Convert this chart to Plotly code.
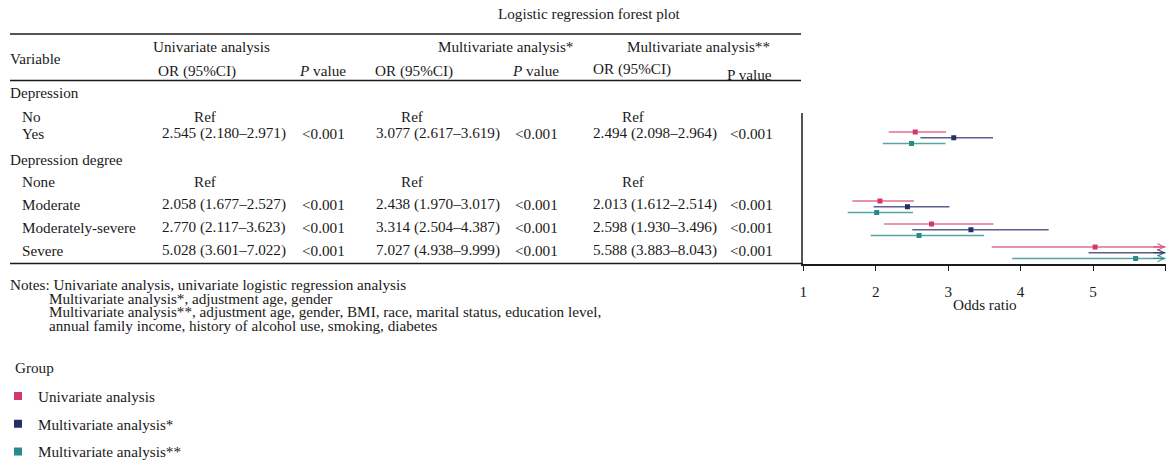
import plotly.graph_objects as go

# ---------------- data ----------------
groups = ["Univariate analysis", "Multivariate analysis*", "Multivariate analysis**"]
group_colors = ["#D3366A", "#25306A", "#2A8A8A"]
line_colors = ["rgba(214,72,118,0.78)", "rgba(42,52,108,0.78)", "rgba(42,138,138,0.78)"]

table_rows = ["Depression", "No", "Yes", "Depression degree", "None",
              "Moderate", "Moderately-severe", "Severe"]
row_is_header = [True, False, False, True, False, False, False, False]

# None -> blank, "Ref" -> reference level
uni_or = [None, "Ref", 2.545, None, "Ref", 2.058, 2.770, 5.028]
uni_lo = [None, None, 2.180, None, None, 1.677, 2.117, 3.601]
uni_hi = [None, None, 2.971, None, None, 2.527, 3.623, 7.022]
uni_p = [None, None, "<0.001", None, None, "<0.001", "<0.001", "<0.001"]

m1_or = [None, "Ref", 3.077, None, "Ref", 2.438, 3.314, 7.027]
m1_lo = [None, None, 2.617, None, None, 1.970, 2.504, 4.938]
m1_hi = [None, None, 3.619, None, None, 3.017, 4.387, 9.999]
m1_p = [None, None, "<0.001", None, None, "<0.001", "<0.001", "<0.001"]

m2_or = [None, "Ref", 2.494, None, "Ref", 2.013, 2.598, 5.588]
m2_lo = [None, None, 2.098, None, None, 1.612, 1.930, 3.883]
m2_hi = [None, None, 2.964, None, None, 2.514, 3.496, 8.043]
m2_p = [None, None, "<0.001", None, None, "<0.001", "<0.001", "<0.001"]

x_ticks = [1, 2, 3, 4, 5, 6]

notes = [
    "Notes: Univariate analysis, univariate logistic regression analysis",
    "Multivariate analysis*, adjustment age, gender",
    "Multivariate analysis**, adjustment age, gender, BMI, race, marital status, education level,",
    "annual family income, history of alcohol use, smoking, diabetes",
]

series = [
    (uni_or, uni_lo, uni_hi, uni_p),
    (m1_or, m1_lo, m1_hi, m1_p),
    (m2_or, m2_lo, m2_hi, m2_p),
]

# ---------------- layout helpers ----------------
W, H = 1166, 464
FONT = "Liberation Serif"
FS = 15.2
LPAD = 1  # annotation text inset compensation


def px(x):
    return x / W


def py(y):
    return 1 - y / H


annotations = []
shapes = []


def txt(x, y, s, anchor="left", size=FS):
    xx = x - LPAD if anchor == "left" else x
    annotations.append(dict(x=px(xx), y=py(y), xref="paper", yref="paper", text=s,
                            showarrow=False, xanchor=anchor, yanchor="middle",
                            borderpad=0,
                            font=dict(family=FONT, size=size, color="#1a1a1a")))


def hline(y, x0, x1, w=1.5, color="#1a1a1a"):
    shapes.append(dict(type="line", xref="paper", yref="paper", x0=px(x0), x1=px(x1),
                       y0=py(y), y1=py(y), line=dict(color=color, width=w)))


# title
txt(589, 13, "Logistic regression forest plot", anchor="center")

# table header
hline(34, 10, 801)
hline(80.5, 10, 801)
hline(263.5, 10, 803)
txt(10, 58, "Variable")
txt(153, 47, "Univariate analysis")
txt(438, 47, "Multivariate analysis*")
txt(627, 47, "Multivariate analysis**")
txt(158, 71, "OR (95%CI)")
txt(299, 71, "<i>P</i> value")
txt(375, 71, "OR (95%CI)")
txt(512, 71, "<i>P</i> value")
txt(593, 69, "OR (95%CI)")
txt(727, 74, "P value")

# table body
row_text_y = [92, 116, 133, 159, 181, 204, 227, 250]
or_x = [162, 376, 593]
ref_x = [194, 401, 622]
p_x = [302, 515, 730]
for i, name in enumerate(table_rows):
    txt(10 if row_is_header[i] else 22, row_text_y[i], name)
    for g, (o, lo, hi, p) in enumerate(series):
        if o[i] == "Ref":
            txt(ref_x[g], row_text_y[i], "Ref")
        elif o[i] is not None:
            txt(or_x[g], row_text_y[i], f"{o[i]:.3f} ({lo[i]:.3f}\u2013{hi[i]:.3f})")
            txt(p_x[g], row_text_y[i], p[i])

# notes
note_x = [10, 49, 49, 49]
note_y = [284, 298, 311, 325]
for s, nx, ny in zip(notes, note_x, note_y):
    txt(nx, ny, s)

# axis title & legend title
txt(985, 304, "Odds ratio", anchor="center")
txt(15, 367, "Group")

# ---------------- forest plot ----------------
fig = go.Figure()
offsets = [-0.25, 0.0, 0.25]
x_max = x_ticks[-1]
for g, (o, lo, hi, p) in enumerate(series):
    lx, ly, mx, my = [], [], [], []
    for i in range(len(table_rows)):
        if isinstance(o[i], float):
            yy = i + offsets[g]
            lx += [lo[i], hi[i], None]
            ly += [yy, yy, None]
            mx.append(o[i])
            my.append(yy)
            if hi[i] > x_max:
                annotations.append(dict(x=x_max, y=yy, xref="x", yref="y", text="",
                                        showarrow=True, ax=-14, ay=0, arrowhead=5,
                                        arrowsize=1.0, arrowwidth=1.3, standoff=0,
                                        arrowcolor=line_colors[g]))
    fig.add_trace(go.Scatter(x=lx, y=ly, mode="lines", showlegend=False,
                             line=dict(color=line_colors[g], width=1.6),
                             hoverinfo="skip"))
    fig.add_trace(go.Scatter(x=mx, y=my, mode="markers", showlegend=False,
                             marker=dict(symbol="square", size=5, color=group_colors[g]),
                             name=groups[g]))
    # legend entry
    fig.add_trace(go.Scatter(x=[None], y=[None], mode="markers", name=groups[g],
                             legendgroup=groups[g],
                             marker=dict(symbol="square", size=8, color=group_colors[g])))

y_top_px, y_bot_px = 113, 263.5
row_px = 23.0
anchor_row, anchor_px = 2, 137.7
y_lo = anchor_row - (anchor_px - y_top_px) / row_px
y_hi = anchor_row + (y_bot_px - anchor_px) / row_px

fig.update_layout(
    width=W, height=H,
    margin=dict(l=0, r=0, t=0, b=0, autoexpand=False),
    paper_bgcolor="white", plot_bgcolor="white",
    font=dict(family=FONT, size=FS, color="#1a1a1a"),
    xaxis=dict(domain=[px(803.3), px(1165.5)], range=[1, 6], tickvals=x_ticks,
               showgrid=False, zeroline=False, showline=True, linecolor="#1a1a1a",
               linewidth=1.5, ticks="outside", ticklen=6, tickwidth=1.3,
               tickcolor="#1a1a1a", ticklabelstandoff=8, automargin=False,
               tickfont=dict(family=FONT, size=FS, color="#1a1a1a")),
    yaxis=dict(domain=[py(y_bot_px), py(y_top_px)], range=[y_hi, y_lo],
               showgrid=False, zeroline=False, showticklabels=False, ticks="",
               automargin=False,
               showline=True, linecolor="#555555", linewidth=1.6),
    showlegend=True,
    legend=dict(x=px(-2), y=py(379.5), xanchor="left", yanchor="top",
                font=dict(family=FONT, size=FS, color="#1a1a1a"),
                tracegroupgap=5, bgcolor="rgba(0,0,0,0)"),
    annotations=annotations,
    shapes=shapes,
)

fig.write_html(
    "out.html",
    config={"displayModeBar": False},
    post_script=("document.documentElement.style.margin='0';"
                 "document.documentElement.style.overflow='hidden';"
                 "document.body.style.margin='0';"
                 "document.body.style.overflow='hidden';"),
)
